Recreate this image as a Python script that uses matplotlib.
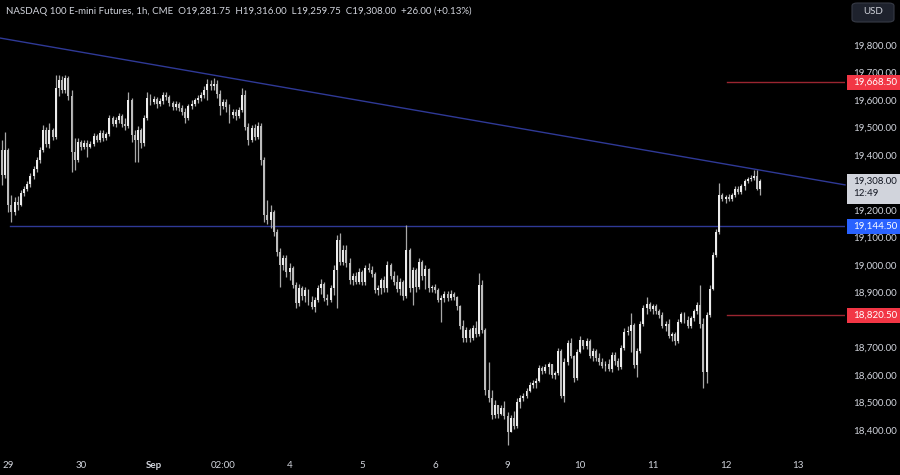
import numpy as np
import matplotlib
matplotlib.use("Agg")
import matplotlib.pyplot as plt
import matplotlib.transforms as mtransforms
from matplotlib.patches import Rectangle, FancyBboxPatch

plt.rcParams["font.family"] = ["Lato", "DejaVu Sans"]

# NQ 1h candles (open of each bar = previous close)
first_open = 19422
closes = [19331, 19422, 19222, 19196, 19233, 19222, 19265, 19280, 19298, 19327,
          19353, 19385, 19422, 19495, 19444, 19495, 19469, 19647, 19676, 19640,
          19684, 19618, 19415, 19385, 19451, 19433, 19447, 19433, 19444, 19473,
          19458, 19484, 19465, 19480, 19538, 19516, 19531, 19545, 19516, 19509,
          19604, 19476, 19458, 19495, 19447, 19538, 19611, 19596, 19607, 19589,
          19600, 19622, 19615, 19593, 19578, 19589, 19575, 19560, 19538, 19582,
          19589, 19604, 19611, 19622, 19640, 19662, 19655, 19662, 19625, 19582,
          19596, 19578, 19549, 19560, 19545, 19567, 19622, 19505, 19458, 19502,
          19469, 19509, 19385, 19185, 19167, 19196, 19124, 19051, 19004, 19029,
          18978, 18993, 18931, 18866, 18920, 18891, 18913, 18869, 18851, 18876,
          18920, 18935, 18884, 18876, 18920, 18985, 19095, 19015, 19058, 19011,
          18949, 18964, 18942, 18978, 18942, 18993, 18985, 18971, 18913, 18920,
          18949, 18920, 19004, 18964, 18942, 18916, 18942, 18891, 19058, 18920,
          18985, 18924, 19015, 18964, 18989, 18920, 18924, 18913, 18876, 18884,
          18898, 18884, 18898, 18887, 18855, 18782, 18738, 18767, 18738, 18775,
          18753, 18931, 18767, 18549, 18520, 18458, 18495, 18462, 18484, 18455,
          18396, 18447, 18418, 18505, 18520, 18527, 18545, 18567, 18575, 18582,
          18629, 18618, 18633, 18644, 18604, 18611, 18691, 18527, 18651, 18720,
          18673, 18593, 18687, 18731, 18709, 18727, 18673, 18691, 18665, 18651,
          18636, 18644, 18625, 18676, 18655, 18633, 18702, 18760, 18764, 18785,
          18640, 18691, 18789, 18847, 18862, 18844, 18855, 18836, 18822, 18782,
          18789, 18746, 18753, 18727, 18796, 18825, 18804, 18782, 18811, 18836,
          18858, 18789, 18615, 18822, 18916, 19040, 19124, 19258, 19244, 19251,
          19244, 19258, 19280, 19269, 19291, 19309, 19316, 19320, 19327, 19281.75,
          19308]
highs = [19458, 19487, 19429, 19258, 19251, 19255, 19276, 19291, 19309, 19338,
         19364, 19396, 19433, 19513, 19505, 19520, 19502, 19695, 19695, 19691,
         19695, 19691, 19640, 19465, 19465, 19458, 19458, 19458, 19455, 19484,
         19480, 19495, 19495, 19487, 19549, 19545, 19542, 19556, 19553, 19538,
         19633, 19611, 19495, 19509, 19502, 19549, 19633, 19625, 19618, 19615,
         19611, 19633, 19633, 19622, 19600, 19600, 19596, 19585, 19575, 19589,
         19604, 19611, 19622, 19633, 19655, 19680, 19676, 19684, 19676, 19640,
         19607, 19607, 19589, 19571, 19571, 19578, 19647, 19640, 19520, 19513,
         19516, 19524, 19520, 19396, 19240, 19222, 19204, 19135, 19066, 19040,
         19040, 19011, 19000, 18942, 18935, 18927, 18924, 18916, 18891, 18887,
         18931, 18953, 18942, 18898, 18931, 19004, 19113, 19120, 19076, 19076,
         19029, 18975, 18978, 18993, 18985, 19004, 19011, 19000, 18978, 18931,
         18957, 18964, 19018, 19011, 18982, 18967, 18957, 18949, 19150, 19066,
         18996, 18993, 19029, 19022, 19004, 18993, 18931, 18935, 18920, 18895,
         18909, 18909, 18913, 18905, 18891, 18858, 18804, 18778, 18775, 18785,
         18800, 18975, 18949, 18775, 18651, 18549, 18513, 18495, 18495, 18509,
         18469, 18458, 18473, 18520, 18531, 18538, 18556, 18578, 18585, 18593,
         18640, 18636, 18644, 18651, 18640, 18618, 18702, 18698, 18665, 18731,
         18738, 18676, 18698, 18745, 18731, 18738, 18735, 18702, 18698, 18684,
         18665, 18655, 18662, 18687, 18687, 18665, 18713, 18775, 18782, 18829,
         18793, 18702, 18800, 18858, 18887, 18869, 18862, 18862, 18844, 18833,
         18800, 18807, 18760, 18760, 18807, 18833, 18833, 18818, 18818, 18844,
         18869, 18931, 18811, 18833, 18931, 19051, 19135, 19302, 19265, 19258,
         19262, 19265, 19291, 19291, 19298, 19316, 19324, 19331, 19349, 19349,
         19316]
lows = [19295, 19320, 19196, 19160, 19185, 19204, 19218, 19255, 19273, 19287,
        19316, 19342, 19375, 19415, 19433, 19429, 19458, 19462, 19618, 19629,
        19629, 19604, 19342, 19349, 19378, 19422, 19425, 19396, 19429, 19436,
        19451, 19451, 19455, 19458, 19473, 19509, 19505, 19520, 19505, 19495,
        19502, 19451, 19378, 19378, 19429, 19436, 19531, 19585, 19589, 19575,
        19582, 19589, 19604, 19582, 19567, 19567, 19564, 19549, 19520, 19531,
        19571, 19582, 19593, 19600, 19611, 19604, 19640, 19640, 19611, 19549,
        19571, 19560, 19520, 19538, 19531, 19538, 19560, 19495, 19440, 19451,
        19458, 19462, 19367, 19160, 19153, 19138, 19109, 19036, 18924, 18985,
        18960, 18949, 18920, 18847, 18855, 18876, 18869, 18858, 18844, 18833,
        18869, 18898, 18873, 18858, 18869, 18895, 18847, 19004, 19004, 18996,
        18935, 18931, 18935, 18935, 18931, 18931, 18978, 18960, 18902, 18895,
        18898, 18905, 18905, 18953, 18931, 18905, 18895, 18876, 18884, 18905,
        18858, 18905, 18916, 18949, 18916, 18905, 18905, 18902, 18869, 18796,
        18869, 18873, 18876, 18876, 18840, 18771, 18724, 18724, 18724, 18731,
        18742, 18745, 18756, 18531, 18505, 18444, 18447, 18447, 18458, 18444,
        18349, 18396, 18407, 18411, 18484, 18509, 18520, 18542, 18556, 18556,
        18578, 18607, 18611, 18607, 18593, 18589, 18604, 18520, 18505, 18640,
        18665, 18578, 18585, 18684, 18698, 18698, 18665, 18655, 18655, 18640,
        18629, 18618, 18618, 18615, 18640, 18622, 18625, 18695, 18749, 18687,
        18629, 18596, 18684, 18782, 18825, 18836, 18825, 18825, 18811, 18775,
        18764, 18738, 18727, 18713, 18720, 18793, 18793, 18775, 18775, 18800,
        18825, 18775, 18556, 18575, 18815, 18913, 19033, 19116, 19236, 19229,
        19236, 19236, 19251, 19262, 19262, 19276, 19302, 19309, 19313, 19276,
        19259.75]

# x axis labels (bar index where each label sits)
day_ticks = [2, 25, 48, 70, 91, 114, 137, 160, 183, 206, 229, 252]
day_labels = ["29", "30", "Sep", "02:00", "4", "5", "6", "9", "10", "11", "12", "13"]

# 19,300 and 18,800 sit under the price boxes, so they are left out
price_ticks = [19800, 19700, 19600, 19500, 19400, 19200, 19100, 19000,
               18900, 18700, 18600, 18500, 18400]

# drawn levels
trend_bars = [-0.6, 266.8]
trend_prices = [19829, 19295]
support_level = 19144.5
support_start = 2.5
red_levels = [19668.5, 18820.5]
red_start = 229.4
last_price = 19308.0
countdown = "12:49"
header = ("NASDAQ 100 E-mini Futures, 1h, CME  O19,281.75  H19,316.00  "
          "L19,259.75  C19,308.00  +26.00 (+0.13%)")

BG = "#000000"
TXT = "#d1d4dc"
BLUE_LINE = "#2f3996"
RED_LINE = "#9a2530"

fig = plt.figure(figsize=(9, 4.75), dpi=100, facecolor=BG)
ax = fig.add_axes([0, 20 / 475, 845 / 900, 455 / 475])
ax.set_facecolor(BG)
for s in ax.spines.values():
    s.set_visible(False)
ax.set_xticks([])
ax.set_yticks([])
ax.set_xlim(-0.63, 266.8)
ax.set_ylim(18312.7, 19967.3)

o = np.array([first_open] + closes[:-1], dtype=float)
c = np.array(closes, dtype=float)
hi = np.maximum(np.array(highs, dtype=float), np.maximum(o, c))
lo = np.minimum(np.array(lows, dtype=float), np.minimum(o, c))
idx = np.arange(len(c))
up = c >= o
bot = np.minimum(o, c)
h = np.maximum(np.abs(c - o), 3)

ax.vlines(idx, lo, hi, color="#a8a8a8", lw=0.9, zorder=3)
ax.bar(idx[up], h[up], bottom=bot[up], width=0.62, color="#ececec", lw=0, zorder=4)
ax.bar(idx[~up], h[~up], bottom=bot[~up], width=0.62, color="#bcbcbc", lw=0, zorder=4)

# lines
ax.plot(trend_bars, trend_prices, color=BLUE_LINE, lw=1.0, zorder=2, clip_on=False)
ax.plot([support_start, 266.8], [support_level] * 2, color=BLUE_LINE, lw=1.0, zorder=2)
for lv in red_levels:
    ax.plot([red_start, 266.8], [lv] * 2, color=RED_LINE, lw=1.0, zorder=2)

# right price scale
tr = mtransforms.blended_transform_factory(ax.transAxes, ax.transData)
lab_x = 853 / 845
for p in price_ticks:
    ax.text(lab_x, p, f"{p:,.2f}", transform=tr, ha="left", va="center",
            color=TXT, fontsize=7, clip_on=False, zorder=5)

px = 3.6364  # price units per pixel
box_x0 = 847 / 845
box_w = 53 / 845


def price_box(price, face, fg, lines=1):
    hpx = 15 if lines == 1 else 30
    top = price + 7.5 * px
    r = Rectangle((box_x0, top - hpx * px), box_w, hpx * px, transform=tr,
                  facecolor=face, edgecolor="none", clip_on=False, zorder=6)
    ax.add_patch(r)
    ax.text(lab_x, price, f"{price:,.2f}", transform=tr, ha="left", va="center",
            color=fg, fontsize=7, clip_on=False, zorder=7)


price_box(red_levels[0], "#f23645", "white")
price_box(support_level, "#2962ff", "white")
price_box(red_levels[1], "#f23645", "white")
price_box(last_price, "#d1d4dc", "#131722", lines=2)
ax.text(lab_x, last_price - 12 * px, countdown, transform=tr, ha="left", va="center",
        color="#131722", fontsize=7, clip_on=False, zorder=7)

# time scale
trx = mtransforms.blended_transform_factory(ax.transData, ax.transAxes)
for t, lab in zip(day_ticks, day_labels):
    ax.text(t, -10 / 455, lab, transform=trx, ha="center", va="center", color=TXT,
            fontsize=7, fontweight="bold" if lab == "Sep" else "normal", clip_on=False)

# header + currency button
fig.text(6 / 900, 1 - 11 / 475, header, ha="left", va="center", color=TXT, fontsize=7)
fig.patches.append(FancyBboxPatch((852 / 900, 1 - 22 / 475), 42 / 900, 19 / 475,
                                  boxstyle="round,pad=0,rounding_size=0.006",
                                  transform=fig.transFigure, facecolor="#1e222d",
                                  edgecolor="#363a45", lw=0.8))
fig.text(873 / 900, 1 - 12 / 475, "USD", ha="center", va="center", color=TXT, fontsize=7)

fig.savefig("out.png", dpi=100, facecolor=BG)
